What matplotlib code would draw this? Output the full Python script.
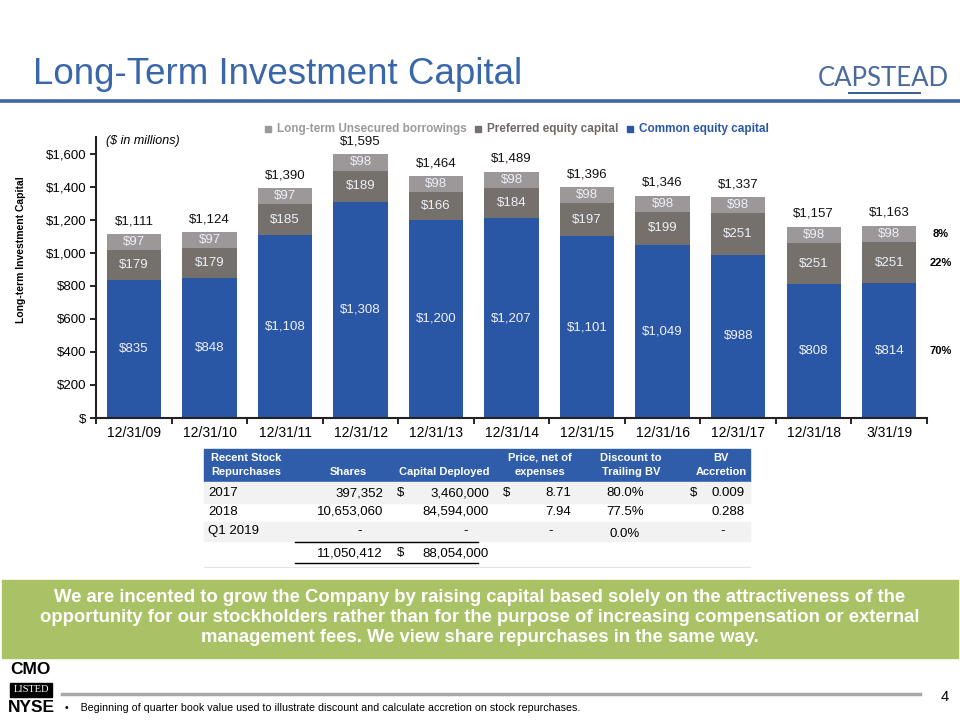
import matplotlib
matplotlib.use("Agg")
import matplotlib.pyplot as plt
from matplotlib.patches import Rectangle
import numpy as np

plt.rcParams['font.family'] = ['Liberation Sans', 'DejaVu Sans']

# ---------------- data ----------------
periods = ["12/31/09", "12/31/10", "12/31/11", "12/31/12", "12/31/13", "12/31/14",
           "12/31/15", "12/31/16", "12/31/17", "12/31/18", "3/31/19"]
common_equity = [835, 848, 1108, 1308, 1200, 1207, 1101, 1049, 988, 808, 814]
preferred_equity = [179, 179, 185, 189, 166, 184, 197, 199, 251, 251, 251]
unsecured_borrowings = [97, 97, 97, 98, 98, 98, 98, 98, 98, 98, 98]
mix_labels = ["8%", "22%", "70%"]
yticks = [0, 200, 400, 600, 800, 1000, 1200, 1400, 1600]

table_header = [["Recent Stock", "Repurchases"], ["", "Shares"], ["", "Capital Deployed"],
                ["Price, net of", "expenses"], ["Discount to", "Trailing BV"], ["BV", "Accretion"]]
row_labels = ["2017", "2018", "Q1 2019", ""]
shares = ["397,352", "10,653,060", "-", "11,050,412"]
capital = ["3,460,000", "84,594,000", "-", "88,054,000"]
capital_dollar = ["$", "", "", "$"]
price = ["8.71", "7.94", "-", ""]
price_dollar = ["$", "", "", ""]
discount = ["80.0%", "77.5%", "0.0%", ""]
accretion = ["0.009", "0.288", "-", ""]
accretion_dollar = ["$", "", "", ""]

c_blue = "#2A57A5"
c_pref = "#76706D"
c_unsec = "#9C9798"
c_title = "#3A66AA"
c_green = "#A9C266"

W, H = 960, 720
fig = plt.figure(figsize=(9.6, 7.2), dpi=100)

def fx(x):
    return x / W

def fy(y):
    return 1 - y / H

# ---------------- title area ----------------
fig.text(fx(33), fy(75), "Long-Term Investment Capital", fontsize=26.5, color=c_title,
         ha="left", va="center")
fig.add_artist(plt.Line2D([0, 1], [fy(100.5), fy(100.5)], color="#3C66A6", lw=2.6,
                          transform=fig.transFigure))
fig.text(fx(883), fy(78), "CAPSTEAD", fontsize=18.5, color="#4A6A9E", ha="center",
         va="center", fontweight="normal", family=["Lato", "DejaVu Sans"])
fig.add_artist(plt.Line2D([fx(849), fx(920)], [fy(93), fy(93)], color="#3A5C94", lw=1.4,
                          transform=fig.transFigure))

# ---------------- chart ----------------
ax = fig.add_axes([fx(96.25), fy(418), fx(927) - fx(96.25), fy(137) - fy(418)])
x = np.arange(len(periods))
bw = 0.72
ce = np.array(common_equity)
pe = np.array(preferred_equity)
ub = np.array(unsecured_borrowings)
ax.bar(x, ce, bw, color=c_blue, zorder=2)
ax.bar(x, pe, bw, bottom=ce, color=c_pref, zorder=2)
ax.bar(x, ub, bw, bottom=ce + pe, color=c_unsec, zorder=2)
tot = ce + pe + ub
lab_col = "#EEF0F8"
for i in range(len(x)):
    ax.text(x[i], ce[i] / 2, f"${ce[i]:,}", ha="center", va="center", color=lab_col, fontsize=9.5)
    ax.text(x[i], ce[i] + pe[i] / 2, f"${pe[i]:,}", ha="center", va="center", color=lab_col, fontsize=9.5)
    ax.text(x[i], ce[i] + pe[i] + ub[i] / 2, f"${ub[i]:,}", ha="center", va="center", color=lab_col, fontsize=9.5)
    ax.text(x[i], tot[i] + 78, f"${tot[i]:,}", ha="center", va="center", color="#111111", fontsize=9.5)

last = len(x) - 1
mids = [ce[last] + pe[last] + ub[last] / 2, ce[last] + pe[last] / 2, ce[last] / 2]
for lab, m in zip(mix_labels, mids):
    ax.text(10.68, m, lab, ha="center", va="center", fontsize=8, fontweight="bold",
            clip_on=False)

ax.set_xlim(-0.5, 10.5)
ax.set_ylim(0, 1700)
ax.set_yticks(yticks)
ax.set_yticklabels(["$" if v == 0 else f"${v:,}" for v in yticks], fontsize=9.5)
ax.set_xticks(np.arange(-0.5, 11, 1.0))
ax.set_xticklabels([])
ax.set_xticks(x, minor=True)
ax.set_xticklabels(periods, minor=True, fontsize=10)
ax.tick_params(axis="x", which="minor", length=0, pad=6)
ax.tick_params(axis="x", which="major", length=4, width=1.2, direction="out")
ax.tick_params(axis="y", length=4, width=1.2, direction="out", pad=3)
for s in ["top", "right"]:
    ax.spines[s].set_visible(False)
for s in ["left", "bottom"]:
    ax.spines[s].set_linewidth(1.5)
    ax.spines[s].set_color("#222222")
ax.set_ylabel("Long-term Investment Capital", fontsize=7.5, fontweight="bold", labelpad=8)
ax.yaxis.set_label_coords(-0.085, 0.6)
ax.text(0.012, 0.985, "($ in millions)", transform=ax.transAxes, fontsize=9, style="italic",
        ha="left", va="center")

# legend (manual, in one line)
leg_items = [("Long-term Unsecured borrowings", c_unsec, "#9A9A9A", 265),
             ("Preferred equity capital", c_pref, "#6E6866", 475),
             ("Common equity capital", c_blue, c_blue, 627)]
for txt, mc, tc, xp in leg_items:
    fig.add_artist(Rectangle((fx(xp), fy(132)), fx(6), 6 / H, color=mc,
                             transform=fig.transFigure))
    fig.text(fx(xp + 12), fy(129), txt, fontsize=8.5, fontweight="bold", color=tc,
             ha="left", va="center")

# ---------------- table ----------------
fig.add_artist(Rectangle((fx(204), fy(481)), fx(750 - 204), (481 - 449) / H, color="#2F5DAA",
                         transform=fig.transFigure))
for (y0, y1) in [(482, 503), (522, 541)]:
    fig.add_artist(Rectangle((fx(204), fy(y1)), fx(750 - 204), (y1 - y0) / H, color="#F2F2F2",
                             transform=fig.transFigure))
hdr_x = [246, 348, 444, 540, 631, 721]
for hx, (l1, l2) in zip(hdr_x, table_header):
    if l1:
        fig.text(fx(hx), fy(458), l1, fontsize=8, fontweight="bold", color="white",
                 ha="center", va="center")
    fig.text(fx(hx), fy(472), l2, fontsize=8, fontweight="bold", color="white",
             ha="center", va="center")

row_y = [493, 512, 531, 553]
fs = 9.5
for i, ry in enumerate(row_y):
    ty = fy(ry)
    if row_labels[i]:
        fig.text(fx(208), ty, row_labels[i], fontsize=fs, ha="left", va="center")
    dash_shift = 7 if shares[i] == "-" else 0
    fig.text(fx(383 - dash_shift * 3), ty, shares[i], fontsize=fs, ha="right", va="center")
    if capital_dollar[i]:
        fig.text(fx(397), ty, capital_dollar[i], fontsize=fs, ha="left", va="center")
    fig.text(fx(489 - (21 if capital[i] == "-" else 0)), ty, capital[i], fontsize=fs,
             ha="right", va="center")
    if price_dollar[i]:
        fig.text(fx(503), ty, price_dollar[i], fontsize=fs, ha="left", va="center")
    if price[i]:
        fig.text(fx(571 - (18 if price[i] == "-" else 0)), ty, price[i], fontsize=fs,
                 ha="right", va="center")
    if discount[i]:
        fig.text(fx(625), ty - (3 / H if i == 2 else 0), discount[i], fontsize=fs,
                 ha="center", va="center")
    if accretion_dollar[i]:
        fig.text(fx(690), ty, accretion_dollar[i], fontsize=fs, ha="left", va="center")
    if accretion[i]:
        fig.text(fx(745 - (20 if accretion[i] == "-" else 0)), ty, accretion[i], fontsize=fs,
                 ha="right", va="center")

for ly in [542, 563]:
    fig.add_artist(plt.Line2D([fx(295), fx(478)], [fy(ly), fy(ly)], color="black", lw=1.0,
                              transform=fig.transFigure))
fig.add_artist(plt.Line2D([fx(204), fx(750)], [fy(567), fy(567)], color="#E4E4E4", lw=0.8,
                          transform=fig.transFigure))

# ---------------- green box ----------------
fig.add_artist(Rectangle((fx(2), fy(658)), fx(956), (658 - 580) / H, color=c_green,
                         transform=fig.transFigure))
green_lines = ["We are incented to grow the Company by raising capital based solely on the attractiveness of the",
               "opportunity for our stockholders rather than for the purpose of increasing compensation or external",
               "management fees. We view share repurchases in the same way."]
for k, gl in enumerate(green_lines):
    fig.text(0.5, fy(598 + 20 * k), gl, fontsize=13.3, fontweight="bold", color="white",
             ha="center", va="center")

# ---------------- footer ----------------
fig.add_artist(plt.Line2D([fx(62), fx(920)], [fy(694), fy(694)], color="#A8A8A8", lw=2.5,
                          transform=fig.transFigure))
fig.text(fx(945), fy(697), "4", fontsize=10.5, ha="center", va="center")
fig.text(fx(65), fy(708), "\u2022    Beginning of quarter book value used to illustrate discount and calculate accretion on stock repurchases.",
         fontsize=7.7, ha="left", va="center")
fig.text(fx(10), fy(670), "CMO", fontsize=12.5, fontweight="bold", ha="left", va="center")
fig.add_artist(Rectangle((fx(10), fy(697)), fx(42), 14 / H, color="black",
                         transform=fig.transFigure))
fig.text(fx(31), fy(690), "LISTED", fontsize=7.5, color="white", ha="center", va="center",
         family=["Liberation Serif", "DejaVu Serif"])
fig.text(fx(8), fy(708), "NYSE", fontsize=12.5, fontweight="bold", ha="left", va="center")

fig.savefig("out.png", dpi=100)
